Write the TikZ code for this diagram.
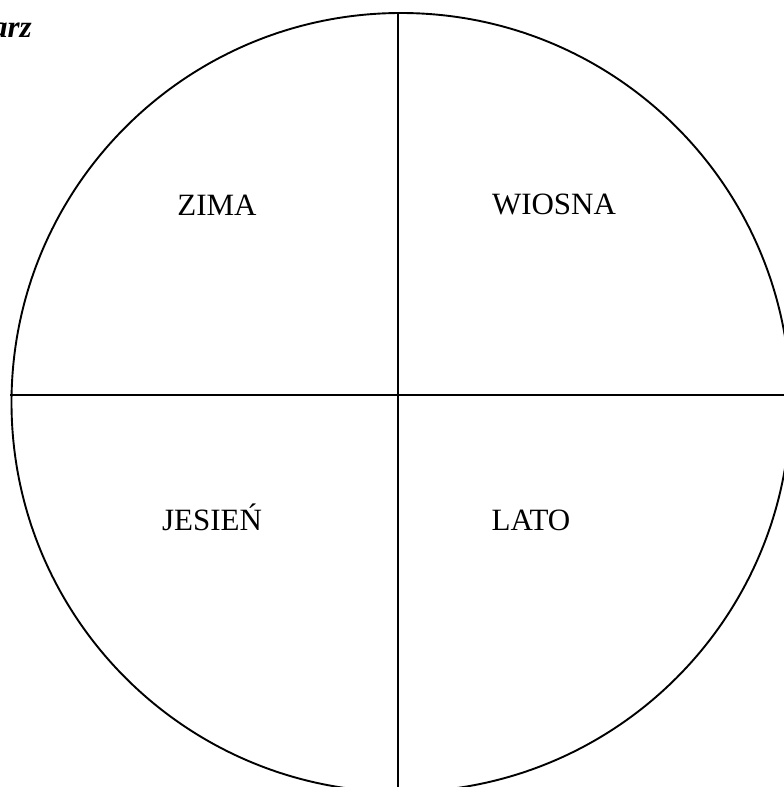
\documentclass[tikz,border=0pt]{standalone}
\usepackage{fontspec}
\setmainfont{Liberation Serif}
\usepackage{tikz}
\usetikzlibrary{positioning}

\begin{document}
\begin{tikzpicture}[
  x=1pt, y=-1pt,
  every node/.style={font=\fontsize{31}{37}\selectfont, inner sep=0pt},
  pora/.style={anchor=base},
  linia/.style={line width=1.9pt}
]

% Frame
\path[use as bounding box, clip] (0,0) rectangle (784,787);

% Title (cut off)
\node[anchor=base east, font=\fontsize{31}{37}\selectfont\bfseries\itshape] (tytul) at (32,37) {arz};

% Circle
\draw[linia] (401,402.5) circle (389.5);

% Quarters
\draw[linia] (398,12) -- (398,792);
\draw[linia] (10,395) -- (792,395);

% Seasons
\node[pora] (zima) at (217,215) {ZIMA};
\node[pora] (wiosna) at (554,214.5) {WIOSNA};
\node[pora] (jesien) at (212,530) {JESIEŃ};
\node[pora] (lato) at (531,530) {LATO};

\end{tikzpicture}
\end{document}
